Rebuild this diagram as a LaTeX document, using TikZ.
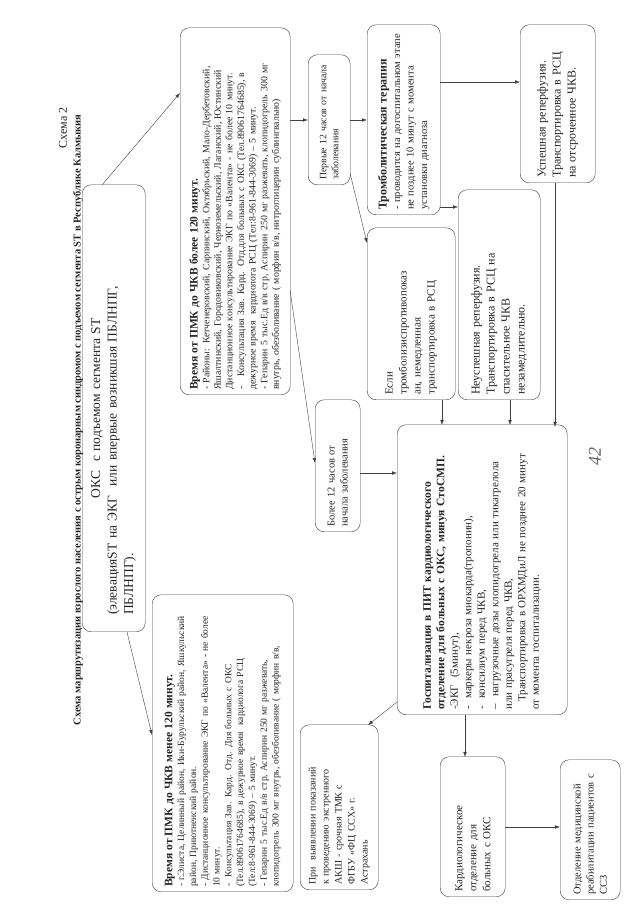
\documentclass[tikz,border=0pt]{standalone}
\usepackage{fontspec}
\setmainfont{Liberation Serif}
\usetikzlibrary{arrows.meta}

\begin{document}
\begin{tikzpicture}[x=1pt, y=1pt,
  every node/.style={text=black!85},
  rbox/.style={draw=black!75, rounded corners=9pt, anchor=north west,
    align=left, inner xsep=5pt, inner ysep=2pt},
  arr/.style={draw=black!75, -{Latex[length=5pt,width=3.5pt]}}]
  \fill[white] (0,0) rectangle (640,905);
  \useasboundingbox (0,0) rectangle (640,905);
  % the sheet is turned: everything is laid out landscape (905 x 640)
  \begin{scope}[shift={(640,0)}, rotate=90, transform shape]
  % heading
  \node[font=\fontsize{12}{14}\selectfont] (scheme) at (777,577) {Схема 2};
  \node[font=\bfseries\fontsize{10.5}{12}\selectfont] (title) at (485,562)
    {Схема маршрутизации взрослого населения с острым коронарным синдромом с подъемом сегмента ST в Республике Калмыкия};
  % top box
  \node[rbox, text width=437pt, minimum height=63pt, font=\fontsize{13.5}{16.5}\selectfont] (oks) at (273,558)
    {\makebox[\hsize][c]{ОКС\ \ с подъемом сегмента ST}\\
     \hspace*{12pt}(элевацияST на ЭКГ\ \ или впервые возникшая ПБЛНПГ,\\
     \hspace*{12pt}ПБЛНПГ).};
  % time from first contact to PCI
  \node[rbox, text width=287pt, minimum height=141pt, font=\fontsize{9.5}{11.8}\selectfont] (less) at (13,488)
    {{\bfseries\fontsize{11.5}{13}\selectfont Время от ПМК до ЧКВ менее 120 минут.}\\
     - г.Элиста, Целинный район, Ики-Бурульский район, Яшкульский\\
     район, Приютненский район.\\
     - Дистанционное консультирование ЭКГ по «Валента» - не более\\
     10 минут.\\
     -\ \ Консультация Зав. Кард. Отд. Для больных с ОКС\\
     (Тел.89061764685), в дежурное время\ \ кардиолога РСЦ\\
     (Тел:8-961-844-3069) – 5 минут.\\
     - Гепарин 5 тыс.Ед в/в стр, Аспирин 250 мг разжевать,\\
     клопидогрель 300 мг внутрь, обезболивание ( морфин в/в,};
  \node[rbox, text width=357pt, minimum height=110pt, font=\fontsize{9.8}{11.6}\selectfont] (more) at (510,460)
    {{\bfseries\fontsize{11.5}{13}\selectfont Время от ПМК до ЧКВ более 120 минут.}\\
     - Районы: Кетченеровский, Сарпинский, Октябрьский, Мало-Дербетовский,\\
     Яшалтинский, Городовиковский, Черноземельский, Лаганский, Юстинский\\
     Дистанционное консультирование ЭКГ по «Валента» - не более 10 минут.\\
     -\ \ \ Консультация Зав. Кард. Отд.для больных с ОКС (Тел.89061764685), в\\
     дежурное время\ \ кардиолога РСЦ (Тел:8-961-844-3069) – 5 минут.\\
     - Гепарин 5 тыс.Ед в/в стр, Аспирин 250 мг разжевать, клопидогрель 300 мг\\
     внутрь, обезболивание ( морфин в/в, нитроглицерин сублингвально)};
  % thrombolysis branch
  \node[rbox, text width=120pt, minimum height=42pt, font=\fontsize{9.8}{12}\selectfont] (first12) at (720,332)
    {Первые 12 часов от начала\\заболевания};
  \node[rbox, text width=180pt, minimum height=73pt, font=\fontsize{10.5}{13.5}\selectfont] (thromb) at (690,273)
    {{\bfseries\fontsize{12}{14}\selectfont Тромболитическая терапия}\\
     - проводится на догоспитальном этапе\\
     не позднее 10 минут с момента\\
     установки диагноза};
  \node[rbox, text width=162pt, minimum height=88pt, font=\fontsize{11}{14}\selectfont] (contra) at (505,273)
    {Если\\тромболизиспротивопоказ\\ан, немедленная\\транспортировка в РСЦ};
  \node[rbox, text width=122pt, minimum height=45pt, font=\fontsize{10.5}{13}\selectfont] (over12) at (373,325)
    {Более 12 часов от\\начала заболевания};
  \node[rbox, text width=200pt, minimum height=82pt, font=\fontsize{12}{15}\selectfont] (fail) at (505,182)
    {Неуспешная реперфузия.\\Транспортировка в РСЦ на\\спасительное ЧКВ\\незамедлительно.};
  \node[rbox, text width=148pt, minimum height=75pt, font=\fontsize{12}{15}\selectfont] (success) at (722,120)
    {Успешная реперфузия.\\Транспортировка в РСЦ\\на отсроченное ЧКВ.};
  % hospital
  \node[rbox, text width=280pt, minimum height=170pt, font=\fontsize{11}{13.5}\selectfont] (hosp) at (190,243)
    {{\bfseries\fontsize{11.5}{14}\selectfont Госпитализация в ПИТ кардиологического\\
      отделение для больных с ОКС, минуя СтоСМП.}\\
     -ЭКГ\ \ (5минут),\\
     -\ \ маркеры некроза миокарда(тропонин),\\
     -\ \ консилиум перед ЧКВ,\\
     –\ \ нагрузочные дозы клопидогрела или тикагрелола\\
     или прасугреля перед ЧКВ,\\
     \hspace*{8pt}Транспортировка в ОРХМДиЛ не позднее 20 минут\\
     от момента госпитализации.};
  \node[rbox, text width=155pt, minimum height=78pt, font=\fontsize{10}{13}\selectfont] (cabg) at (15,340)
    {При\ \ выявлении показаний\\к проведению экстренного\\АКШ - срочная ТМК с\\ФГБУ «ФЦ ССХ» г.\\Астрахань};
  \node[rbox, text width=130pt, minimum height=65pt, font=\fontsize{11}{14}\selectfont] (cardio) at (8,200)
    {Кардиологическое\\отделение для\\больных с ОКС};
  \node[rbox, text width=130pt, minimum height=60pt, font=\fontsize{10.5}{13}\selectfont] (rehab) at (5,80)
    {Отделение медицинской\\реабилитации пациентов с\\ССЗ};
  \node[font=\itshape\fontsize{18}{18}\selectfont, text=black!60] (pagenum) at (448,45) {42};
  % connector ends
  \coordinate (oksL) at (273,513);  \coordinate (lessT) at (170,488);
  \coordinate (oksR) at (720,538);  \coordinate (moreT) at (812,460);
  \coordinate (moreB) at (785,350); \coordinate (firstT) at (785,332);
  \coordinate (firstB) at (785,290); \coordinate (thrT) at (785,273);
  \coordinate (firstBL) at (732,290); \coordinate (conT) at (662,273);
  \coordinate (moreBL) at (615,350); \coordinate (overT) at (442,325);
  \coordinate (overB) at (432,280); \coordinate (hospT) at (432,243);
  \coordinate (conL) at (505,198);  \coordinate (hospR1) at (480,198);
  \coordinate (thrB1) at (823,200); \coordinate (succT) at (823,120);
  \coordinate (thrB2) at (698,200); \coordinate (failT) at (698,182);
  \coordinate (failL) at (505,130); \coordinate (hospR2) at (480,130);
  \coordinate (succL) at (722,85);  \coordinate (hospR3) at (478,85);
  \coordinate (hospTL) at (203,243); \coordinate (cabgR) at (180,272);
  \coordinate (hospL) at (190,175); \coordinate (cardR) at (148,175);
  \coordinate (cardB) at (78,135);  \coordinate (rehT) at (78,80);
  % arrows
  \draw[arr] (oksL) -- (lessT);
  \draw[arr] (oksR) -- (moreT);
  \draw[arr] (moreB) -- (firstT);
  \draw[arr] (firstB) -- (thrT);
  \draw[arr] (firstBL) -- (conT);
  \draw[arr] (moreBL) -- (overT);
  \draw[arr] (overB) -- (hospT);
  \draw[arr] (conL) -- (hospR1);
  \draw[arr] (thrB1) -- (succT);
  \draw[arr] (thrB2) -- (failT);
  \draw[arr] (failL) -- (hospR2);
  \draw[arr] (succL) -- (hospR3);
  \draw[arr] (hospTL) -- (cabgR);
  \draw[arr] (hospL) -- (cardR);
  \draw[arr] (cardB) -- (rehT);
  \end{scope}
\end{tikzpicture}
\end{document}
